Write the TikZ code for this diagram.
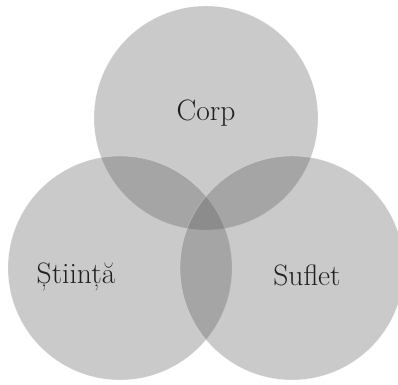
\documentclass[tikz,border=0pt]{standalone}
\usepackage{fontspec}
\usepackage{tikz}
\usetikzlibrary{calc}
\tikzset{blob/.style={fill=black!67, fill opacity=0.31, draw=white, draw opacity=0.35, line width=0.3pt},
	label/.style={text=black!88, font=\fontsize{21}{24}\selectfont}}

\begin{document}
\begin{tikzpicture}
		%%%%% START %%%%%
		
		\useasboundingbox (0, 0) rectangle (9.95, 9.625);
		
		\draw[blob] (5.15, 6.675) circle (2.8);
		\draw[blob] (3.0, 2.925) circle (2.8);
		\draw[blob] (7.3, 2.925) circle (2.8);
		
		\node[label] (corp) at (5.15, 6.8) {Corp};
		\node[label] (stiinta) at (1.9, 2.7) {Știință};
		\node[label] (suflet) at (7.675, 2.75) {Suflet};
		
		%%%%% END %%%%%
	\end{tikzpicture}
\end{document}
